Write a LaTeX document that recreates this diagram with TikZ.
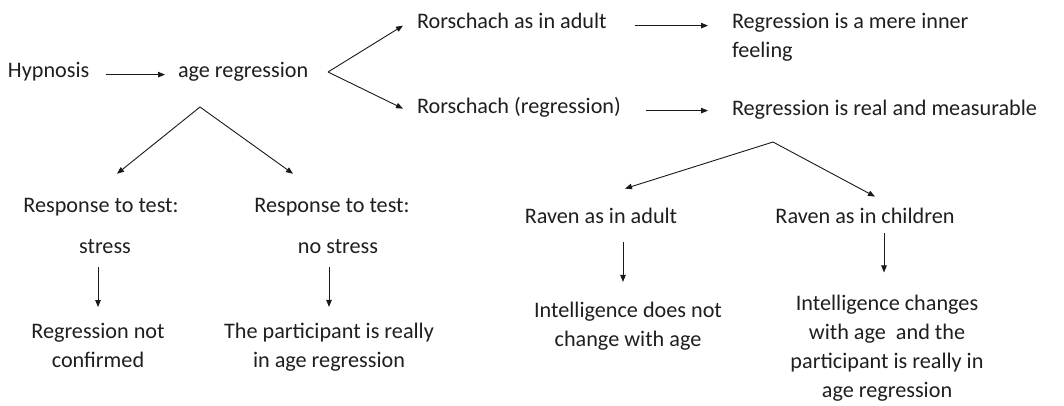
\documentclass[tikz,border=0pt]{standalone}
\usepackage{fontspec}
\setmainfont{Carlito}
\usetikzlibrary{arrows.meta,calc}
\begin{document}
\begin{tikzpicture}[x=1pt,y=-1pt,
  lbl/.style={inner sep=0pt,outer sep=0pt,text=black!88,font=\fontsize{22.2}{28.7}\selectfont},
  arr/.style={draw=black!90,line width=0.9pt,-{Triangle[length=7pt,width=5.5pt]}}]
\useasboundingbox[fill=white] (0,0) rectangle (1064,405);
% nodes (base anchor = baseline of the last line)
\node[lbl,anchor=base west] (hyp) at (8,77) {Hypnosis};
\node[lbl,anchor=base west] (age) at (178,77) {age regression};
\node[lbl,anchor=base west] (ra) at (417,28) {Rorschach as in adult};
\node[lbl,anchor=base west] (rr) at (417,113) {Rorschach (regression)};
\node[lbl,anchor=base west,align=left] (rm) at (732,57) {Regression is a mere inner\\feeling};
\node[lbl,anchor=base west] (rrm) at (732,115) {Regression is real and measurable};
\node[lbl,anchor=base] (resp1) at (101,212) {Response to test:};
\node[lbl,anchor=base] (resp2) at (332,212) {Response to test:};
\node[lbl,anchor=base] (st1) at (105,253) {stress};
\node[lbl,anchor=base] (st2) at (338,253) {no stress};
\node[lbl,anchor=base,align=center] (rnc) at (98,367) {Regression not\\confirmed};
\node[lbl,anchor=base,align=center] (tp) at (329,367) {The participant is really\\in age regression};
\node[lbl,anchor=base] (rav1) at (601,223) {Raven as in adult};
\node[lbl,anchor=base] (rav2) at (865,223) {Raven as in children};
\node[lbl,anchor=base,align=center] (int1) at (628,346) {Intelligence does not\\change with age};
\node[lbl,anchor=base,align=center] (int2) at (887,397) {Intelligence changes\\with age\ \ and the\\participant is really in\\age regression};
% branch points
\coordinate (v1) at (328,72);
\coordinate (a1) at (200,107);
\coordinate (a2) at (773,142);
% connectors
\draw[arr,shorten <=17pt,shorten >=13pt] (hyp.mid east) -- (age.mid west);
\draw[arr] (v1) -- ([xshift=-14pt]ra.mid west);
\draw[arr] (v1) -- ([xshift=-14pt,yshift=2pt]rr.mid west);
\draw[arr,shorten <=28pt,shorten >=24pt] (ra.mid east) -- (ra.mid east -| rm.west);
\draw[arr,shorten <=25pt,shorten >=24pt] (rr.mid east) -- (rr.mid east -| rrm.west);
\draw[arr] (a1) -- ([xshift=16pt,yshift=24pt]resp1.north);
\draw[arr] (a1) -- ([xshift=-39pt,yshift=24pt]resp2.north);
\draw[arr,shorten <=14pt,shorten >=16pt] (st1.south -| rnc.north) -- (rnc.north);
\draw[arr,shorten <=14pt,shorten >=16pt] (st2.south -| tp.north) -- (tp.north);
\draw[arr] (a2) -- ([xshift=24pt,yshift=19pt]rav1.north);
\draw[arr] (a2) -- ([xshift=10pt,yshift=11pt]rav2.north);
\draw[arr] ([xshift=22pt,yshift=-19pt]rav1.south) -- ([xshift=-5pt,yshift=20pt]int1.north);
\draw[arr] ([xshift=19pt,yshift=-10pt]rav2.south) -- ([xshift=-3pt,yshift=23pt]int2.north);
\end{tikzpicture}
\end{document}
